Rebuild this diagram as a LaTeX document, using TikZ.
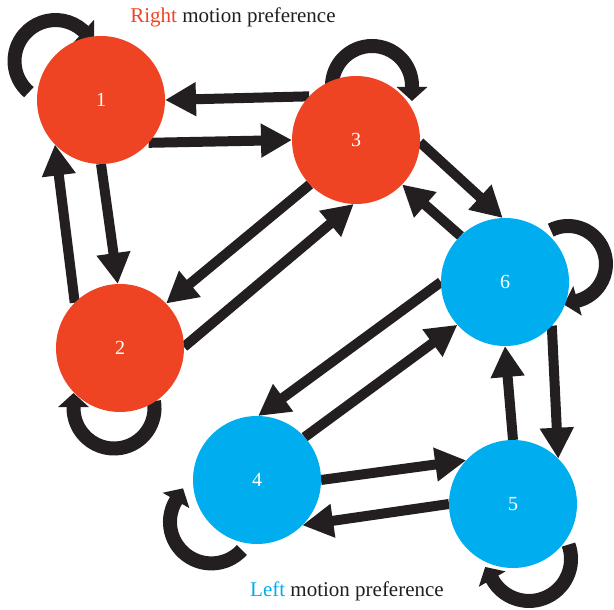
\documentclass[tikz,border=0pt]{standalone}
\usepackage{fontspec}
\setmainfont{Liberation Serif}
\usetikzlibrary{arrows.meta}
\pgfdeclarelayer{bg}
\pgfsetlayers{bg,main}
\definecolor{rcol}{RGB}{239,68,35}
\definecolor{bcol}{RGB}{0,174,239}
\definecolor{acol}{RGB}{35,31,32}
\tikzset{
  state/.style={circle, minimum size=128pt, inner sep=0pt, outer sep=0pt, text=white, font=\fontsize{20}{20}\selectfont},
  rstate/.style={state, fill=rcol},
  bstate/.style={state, fill=bcol},
  link/.style={draw=acol, line width=10pt, -{Triangle[length=31pt,width=32pt]}},
  selfloop/.style={draw=acol, line width=14pt, -{Triangle[length=14pt,width=30pt]}},
  caption/.style={anchor=base, text=acol, font=\fontsize{21}{21}\selectfont},
}
\begin{document}
\begin{tikzpicture}[x=1pt,y=1pt]
\useasboundingbox (0,0) rectangle (614,610);
\node[rstate] (n1) at (101,510) {1};
\node[rstate] (n2) at (120,262) {2};
\node[rstate] (n3) at (356,470) {3};
\node[bstate] (n6) at (505,328) {6};
\node[bstate] (n4) at (257,130) {4};
\node[bstate] (n5) at (513,106) {5};
\node[caption] (ttop) at (233,587) {\textcolor{rcol}{Right} motion preference};
\node[caption] (tbot) at (347,13) {\textcolor{bcol}{Left} motion preference};
\begin{pgfonlayer}{bg}
\draw[link] (n3.137.5) -- (n1.0);
\draw[link] (n1.-42) -- (n3.180);
\draw[link] (n1.-90) -- (n2.92);
\draw[link] (n2.135.5) -- (n1.224);
\draw[link] (n3.224.5) -- (n2.44.5);
\draw[link] (n2.1) -- (n3.268);
\draw[link] (n3.-2) -- (n6.92);
\draw[link] (n6.134) -- (n3.-44.5);
\draw[link] (n6.180) -- (n4.89);
\draw[link] (n4.42) -- (n6.222.5);
\draw[link] (n4.0) -- (n5.137);
\draw[link] (n5.180) -- (n4.-45.5);
\draw[link] (n5.90) -- (n6.-90);
\draw[link] (n6.-43) -- (n5.45);
\draw[selfloop] (28.9,517.8) arc[start angle=229.5, end angle=48, radius=41] -- ++(-42:15);
\draw[selfloop] (332,524) arc[start angle=180, end angle=0, radius=40] -- ++(-90:15);
\draw[selfloop] (550.75,379.86) arc[start angle=117, end angle=-74, radius=38] -- ++(-164:15);
\draw[selfloop] (153.9,209.0) arc[start angle=10, end angle=-180, radius=40.5] -- ++(90:15);
\draw[selfloop] (241.9,60.0) arc[start angle=-42.5, end angle=-210, radius=41.4] -- ++(60:15);
\draw[selfloop] (568.5,65.4) arc[start angle=20, end angle=-150, radius=42] -- ++(120:15);
\end{pgfonlayer}
\end{tikzpicture}
\end{document}
